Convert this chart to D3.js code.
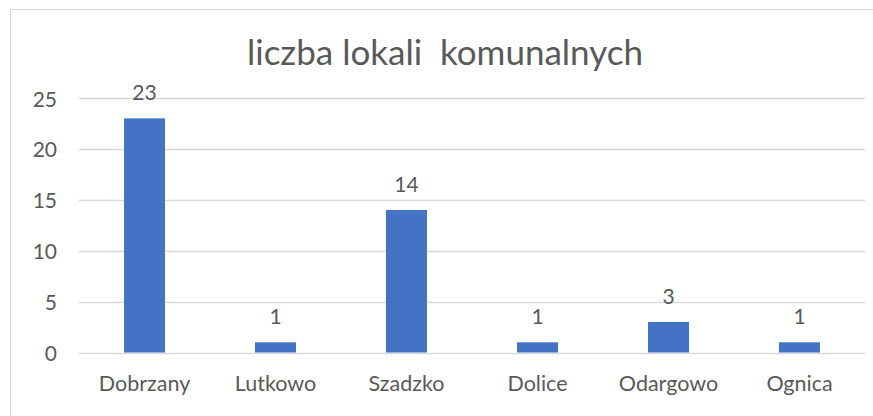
<!DOCTYPE html>
<html><head><meta charset="utf-8">
<script src="https://cdn.jsdelivr.net/npm/d3@7"></script>
<style>body{margin:0;background:#fff}svg{display:block}text{font-family:Lato, "Open Sans", sans-serif;fill:#595959}</style>
</head><body><svg id="c" width="873" height="416"></svg>
<script>
const categories = ["Dobrzany","Lutkowo","Szadzko","Dolice","Odargowo","Ognica"];
const values = [23,1,14,1,3,1];
const yTicks = [0,5,10,15,20,25];
const title = "liczba lokali\u00a0 komunalnych";

const svg = d3.select("#c");
svg.append("rect").attr("x",10.5).attr("y",9.5).attr("width",900).attr("height",450)
  .attr("fill","#fff").attr("stroke","#d9d9d9").attr("stroke-width",1);

const x = d3.scaleBand().domain(categories).range([79,865]).paddingInner(0.687).paddingOuter(0.3435);
const y = d3.scaleLinear().domain([0,25]).range([352.5,98]);

const grid = svg.append("g");
grid.selectAll("line").data(yTicks).join("line")
  .attr("x1",79).attr("x2",865).attr("y1",d=>Math.round(y(d))+0.5).attr("y2",d=>Math.round(y(d))+0.5)
  .attr("stroke","#d9d9d9").attr("stroke-width",1.3);

const yAxis = svg.append("g").attr("transform","translate(57,0)")
  .call(d3.axisLeft(y).tickValues(yTicks).tickSize(0).tickPadding(0));
yAxis.select(".domain").remove();
yAxis.selectAll("text").attr("font-size",21).attr("dy",0).attr("y",8)
  .style("font-family","Lato, sans-serif").attr("fill","#595959");

svg.selectAll("rect.bar").data(values).join("rect").attr("class","bar")
  .attr("x",(d,i)=>x(categories[i])).attr("width",x.bandwidth())
  .attr("y",d=>y(d)).attr("height",d=>y(0)-y(d)).attr("fill","#4472C4");

svg.selectAll("text.lbl").data(values).join("text").attr("class","lbl")
  .attr("x",(d,i)=>x(categories[i])+x.bandwidth()/2).attr("y",d=>y(d)-18)
  .attr("text-anchor","middle").attr("font-size",21).text(d=>d);

const xAxis = svg.append("g").attr("transform","translate(0,352)")
  .call(d3.axisBottom(x).tickSize(0));
xAxis.select(".domain").remove();
xAxis.selectAll("text").attr("font-size",21.5).attr("dy",0).attr("y",39)
  .style("font-family","Lato, sans-serif").attr("fill","#595959");

svg.append("text").attr("x",445).attr("y",65).attr("text-anchor","middle")
  .attr("font-size",35).text(title);
</script></body></html>
